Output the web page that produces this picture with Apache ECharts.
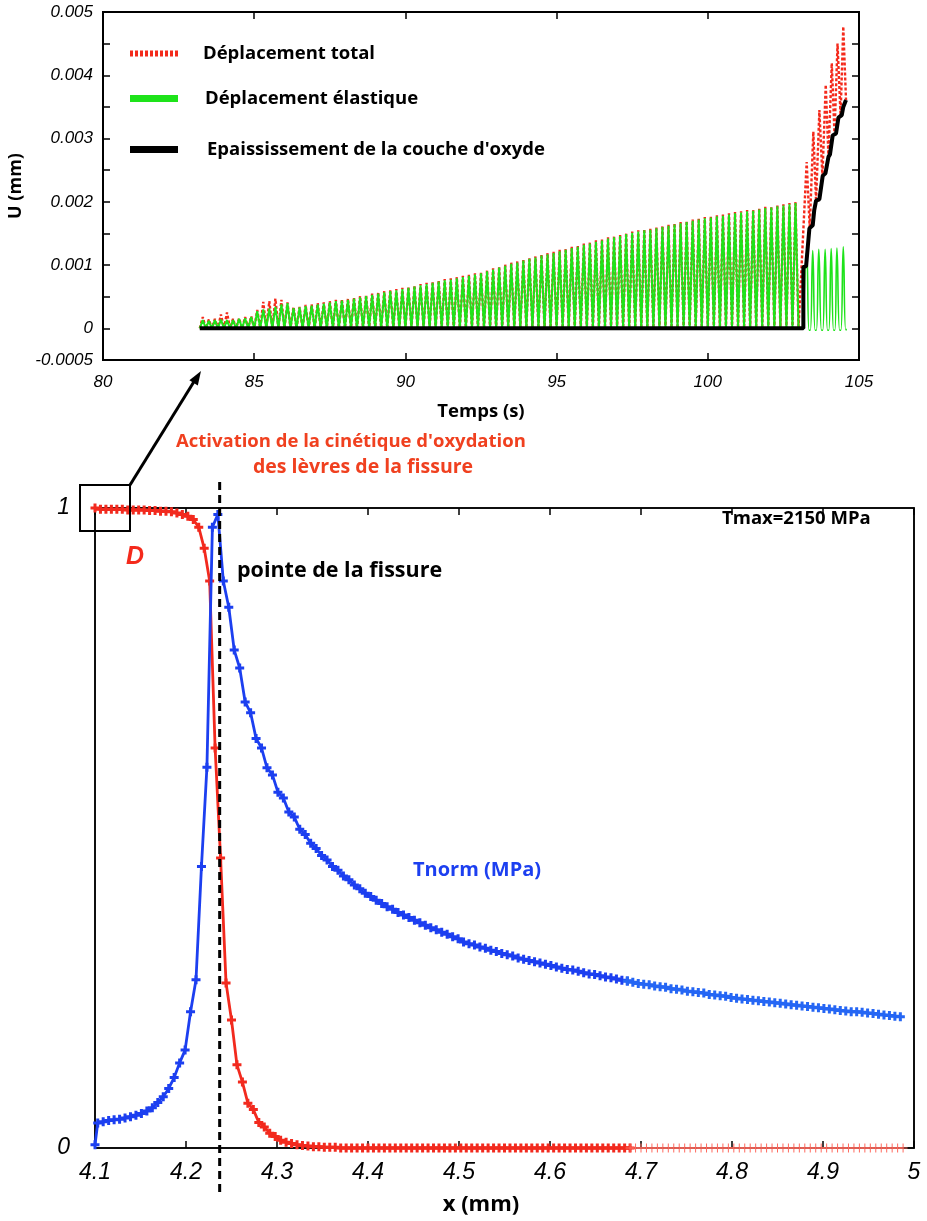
<!DOCTYPE html>
<html><head><meta charset="utf-8">
<script src="https://cdn.jsdelivr.net/npm/echarts@6/dist/echarts.min.js"></script>
<style>html,body{margin:0;padding:0;background:#fff}#c{width:927px;height:1221px}</style>
</head><body><div id="c"></div>
<script>
// ================= DATA =================
// --- top panel : U (mm) vs Temps (s) ---
const cycleT = [83.3,83.5,83.7,83.9,84.1,84.3,84.5,84.7,84.9,85.1,85.3,85.5,85.7,85.9,86.1,86.3,86.5,86.7,86.9,87.1,
87.3,87.5,87.7,87.9,88.1,88.3,88.5,88.7,88.9,89.1,89.3,89.5,89.7,89.9,90.1,90.3,90.5,90.7,90.9,91.1,
91.3,91.5,91.7,91.9,92.1,92.3,92.5,92.7,92.9,93.1,93.3,93.5,93.7,93.9,94.1,94.3,94.5,94.7,94.9,95.1,
95.3,95.5,95.7,95.9,96.1,96.3,96.5,96.7,96.9,97.1,97.3,97.5,97.7,97.9,98.1,98.3,98.5,98.7,98.9,99.1,
99.3,99.5,99.7,99.9,100.1,100.3,100.5,100.7,100.9,101.1,101.3,101.5,101.7,101.9,102.1,102.3,102.5,102.7,102.9];
const cycleValley = 0;
const elasticPeak = [0.00013,0.00012,0.00013,0.00014,0.00013,0.00013,0.00015,0.00016,0.00018,0.00027,
0.00030,0.00031,0.00034,0.00038,0.00040,0.00032,0.00033,0.00035,0.00036,0.00038,
0.00039,0.00041,0.00043,0.00044,0.00045,0.00047,0.00049,0.00051,0.00053,0.00055,
0.00057,0.00059,0.00060,0.00062,0.00064,0.00066,0.00068,0.00070,0.00072,0.00074,
0.00076,0.00077,0.00079,0.00081,0.00083,0.00085,0.00087,0.00090,0.00093,0.00096,
0.00099,0.00102,0.00104,0.00107,0.00110,0.00112,0.00115,0.00117,0.00119,0.00122,
0.00124,0.00127,0.00129,0.00132,0.00134,0.00137,0.00139,0.00142,0.00144,0.00146,
0.00149,0.00151,0.00153,0.00155,0.00156,0.00158,0.00160,0.00162,0.00164,0.00166,
0.00168,0.00170,0.00172,0.00174,0.00175,0.00177,0.00178,0.00180,0.00182,0.00183,
0.00185,0.00186,0.00188,0.00190,0.00191,0.00193,0.00194,0.00196,0.00198];
const totalPeak = [0.00018,0.00014,0.00015,0.00022,0.00025,0.00015,0.00016,0.00018,0.00019,0.00029,
0.00042,0.00043,0.00047,0.00045,0.00041,0.00034,0.00034,0.00037,0.00038,0.00040,
0.00041,0.00043,0.00045,0.00046,0.00047,0.00049,0.00051,0.00053,0.00055,0.00057,
0.00059,0.00061,0.00062,0.00064,0.00066,0.00068,0.00070,0.00072,0.00074,0.00076,
0.00078,0.00079,0.00081,0.00083,0.00085,0.00087,0.00089,0.00092,0.00095,0.00098,
0.00101,0.00104,0.00106,0.00109,0.00112,0.00114,0.00117,0.00119,0.00121,0.00124,
0.00126,0.00129,0.00131,0.00134,0.00136,0.00139,0.00141,0.00144,0.00146,0.00148,
0.00151,0.00153,0.00155,0.00157,0.00158,0.00160,0.00162,0.00164,0.00166,0.00168,
0.00170,0.00172,0.00174,0.00176,0.00177,0.00179,0.00180,0.00182,0.00184,0.00185,
0.00187,0.00188,0.00190,0.00192,0.00193,0.00195,0.00196,0.00198,0.00200];
// after activation of oxidation (t > 103 s)
const lateTotalT = [103.00,103.27,103.37,103.49,103.58,103.69,103.79,103.90,103.99,104.10,104.19,104.29,104.39,104.48,104.57];
const lateTotalU = [0,0.00263,0.00158,0.00311,0.00201,0.00345,0.00240,0.00385,0.00271,0.00419,0.00306,0.00450,0.00336,0.00477,0.00361];
const lateElasticT = [103.16,103.27,103.35,103.39,103.47,103.55,103.59,103.67,103.76,103.80,103.88,103.96,104.00,104.08,104.16,104.20,104.27,104.36,104.40,104.48,104.56,104.60];
const lateElasticU = [0,0.00122,-0.00003,-0.00003,0.00123,-0.00003,-0.00003,0.00125,-0.00003,-0.00003,0.00125,-0.00003,-0.00003,0.00126,-0.00003,-0.00003,0.00127,-0.00003,-0.00003,0.00129,-0.00002,-0.00002];
const oxideT = [83.2,103.16,103.16,103.25,103.36,103.47,103.52,103.58,103.69,103.80,103.89,103.99,104.04,104.13,104.24,104.32,104.43,104.48,104.57];
const oxideU = [0,0,0.00097,0.00098,0.00158,0.00163,0.00187,0.00202,0.00204,0.00241,0.00245,0.00271,0.00275,0.00305,0.00308,0.00333,0.00337,0.00350,0.00361];

// --- bottom panel : D and Tnorm/Tmax vs x (mm) ---
const nodeX = [4.100,4.106,4.112,4.118,4.124,4.130,4.136,4.142,4.148,4.154,4.160,4.166,4.172,4.178,4.184,4.190,4.196,4.202,4.208,4.214,
4.220,4.226,4.232,4.238,4.244,4.250,4.256,4.262,4.268,4.274,4.280,4.286,4.292,4.298,4.304,4.310,4.316,4.322,4.328,4.334,
4.340,4.346,4.352,4.358,4.364,4.370,4.376,4.382,4.388,4.394,4.400,4.406,4.412,4.418,4.424,4.430,4.436,4.442,4.448,4.454,
4.460,4.466,4.472,4.478,4.484,4.490,4.496,4.502,4.508,4.514,4.520,4.526,4.532,4.538,4.544,4.550,4.556,4.562,4.568,4.574,
4.580,4.586,4.592,4.598,4.604,4.610,4.616,4.622,4.628,4.634,4.640,4.646,4.652,4.658,4.664,4.670,4.676,4.682,4.688,4.694,
4.700,4.706,4.712,4.718,4.724,4.730,4.736,4.742,4.748,4.754,4.760,4.766,4.772,4.778,4.784,4.790,4.796,4.802,4.808,4.814,
4.820,4.826,4.832,4.838,4.844,4.850,4.856,4.862,4.868,4.874,4.880,4.886,4.892,4.898,4.904,4.910,4.916,4.922,4.928,4.934,
4.940,4.946,4.952,4.958,4.964,4.970,4.976,4.982,4.988];
const damage = [1.000,0.998,0.998,0.998,0.998,0.998,0.997,0.997,0.997,0.997,0.996,0.996,0.995,0.995,0.994,0.992,0.990,0.987,0.982,0.970,
0.937,0.886,0.625,0.453,0.258,0.200,0.130,0.103,0.070,0.060,0.040,0.033,0.023,0.018,0.012,0.009,0.007,0.005,0.004,0.003,
0.002,0.002,0.001,0.001,0.001,0,0,0,0,0,
0,0,0,0,0,0,0,0,0,0, 0,0,0,0,0,0,0,0,0,0, 0,0,0,0,0,0,0,0,0,0, 0,0,0,0,0,0,0,0,0,0,
0,0,0,0,0,0,0,0,0,0, 0,0,0,0,0,0,0,0,0,0, 0,0,0,0,0,0,0,0,0,0, 0,0,0,0,0,0,0,0,0,0,
0,0,0,0,0,0,0,0,0,0, 0,0,0,0,0,0,0,0,0];
const tractionX = [4.100,4.103,4.109,4.115,4.121,4.127,4.133,4.139,4.145,4.151,4.157,4.163,4.169,4.175,4.181,4.187,4.193,4.199,4.205,4.211,
4.217,4.223,4.229,4.235,4.241,4.247,4.253,4.259,4.265,4.271,4.277,4.283,4.289,4.295,4.301,4.307,4.313,4.319,4.325,4.331,
4.337,4.343,4.349,4.355,4.361,4.367,4.373,4.379,4.385,4.391,4.397,4.403,4.409,4.415,4.421,4.427,4.433,4.439,4.445,4.451,
4.457,4.463,4.469,4.475,4.481,4.487,4.493,4.499,4.505,4.511,4.517,4.523,4.529,4.535,4.541,4.547,4.553,4.559,4.565,4.571,
4.577,4.583,4.589,4.595,4.601,4.607,4.613,4.619,4.625,4.631,4.637,4.643,4.649,4.655,4.661,4.667,4.673,4.679,4.685,4.691,
4.697,4.703,4.709,4.715,4.721,4.727,4.733,4.739,4.745,4.751,4.757,4.763,4.769,4.775,4.781,4.787,4.793,4.799,4.805,4.811,
4.817,4.823,4.829,4.835,4.841,4.847,4.853,4.859,4.865,4.871,4.877,4.883,4.889,4.895,4.901,4.907,4.913,4.919,4.925,4.931,
4.937,4.943,4.949,4.955,4.961,4.967,4.973,4.979,4.985];
const traction = [0.005,
0.039,0.041,0.043,0.044,0.045,0.047,0.049,0.051,0.054,0.058,0.063,0.071,0.080,0.093,0.110,0.133,0.153,0.213,0.263,0.440,
0.595,0.970,0.990,0.886,0.845,0.778,0.750,0.697,0.680,0.640,0.625,0.594,0.583,0.556,0.547,0.525,0.517,
0.498,0.490,0.476,0.468,0.457,0.450,0.440,0.434,0.425,0.419,0.411,0.405,0.398,0.393,0.387,0.382,0.377,0.373,0.368,0.364,
0.360,0.356,0.352,0.348,0.344,0.341,0.337,0.334,0.330,0.327,
0.322,0.319,0.317,0.314,0.312,0.309,0.307,0.304,0.302,0.300,0.297,0.295,0.293,0.291,0.289,0.287,0.285,
0.283,0.281,0.279,0.278,0.276,0.274,0.272,0.271,0.269,0.267,0.266,0.264,0.262,0.261,0.259,0.257,0.256,
0.255,0.253,0.252,0.251,0.249,0.248,0.247,0.245,0.244,0.243,0.242,0.240,0.239,0.238,0.237,0.235,
0.234,0.233,0.232,0.231,0.230,0.229,0.228,0.227,0.226,0.225,0.224,0.223,0.222,0.221,0.220,0.219,0.218,
0.217,0.216,0.215,0.214,0.213,0.213,0.212,0.211,0.210,0.209,0.208,0.207,0.206,0.205];
const crackTipX = 4.237;
const xTicksBottom = ['4.1','4.2','4.3','4.4','4.5','4.6','4.7','4.8','4.9','5'];
const seriesNames = ['Déplacement total','Déplacement élastique',"Epaississement de la couche d'oxyde"];

// ================= BUILD =================
const RED = '#f42a1c', GREEN = '#1ee31a', BLACK = '#000';
const DRED = '#f22a1e', DRED2 = '#ff6a5e', BLUE = '#1c3ff0', BLUE2 = '#2566f4';

function zigzag(times, peaks, valley) {
  const out = [];
  for (let i = 0; i < times.length; i++) {
    out.push([+(times[i] - 0.1).toFixed(2), valley]);
    out.push([times[i], peaks[i]]);
  }
  return out;
}
const pairs = (a, b) => a.map((v, i) => [v, b[i]]);

const totalData = zigzag(cycleT, totalPeak, cycleValley).concat(pairs(lateTotalT, lateTotalU));
const elasticData = zigzag(cycleT, elasticPeak, cycleValley).concat([[103.0, cycleValley]]);
const elasticLate = pairs(lateElasticT, lateElasticU);
const oxideData = pairs(oxideT, oxideU);

const dAll = pairs(nodeX, damage);
const dSplit = nodeX.indexOf(4.688);
const tAll = pairs(tractionX, traction);
const tSplit = tractionX.indexOf(4.685);

const CROSS = 'path://M0,3H9V6H0Z M3,0H6V9H3Z';
const CROSS_THIN = 'path://M0,4H9V5H0Z M4,0H5V9H4Z';
const DASH_ICON = 'path://M0,0h3v6h-3z M5,0h3v6h-3z M10,0h3v6h-3z M15,0h3v6h-3z M20,0h3v6h-3z M25,0h3v6h-3z M30,0h3v6h-3z M35,0h3v6h-3z M40,0h3v6h-3z M45,0h3v6h-3z';

const tickFont = {fontFamily: 'Liberation Sans', fontStyle: 'italic', color: '#000'};
const boldFont = 'Open Sans';

const chart = echarts.init(document.getElementById('c'), null, {renderer: 'canvas'});

function legendFor(name, icon, color, top, pad) {
  return {
    data: [{name: name, icon: icon, itemStyle: {color: color}}],
    left: 130, top: top, itemWidth: 48, itemHeight: 7, padding: 0,
    selectedMode: false, orient: 'horizontal',
    textStyle: {fontFamily: boldFont, fontWeight: 'bold', fontSize: 18.5, color: '#000', padding: [0, 0, 0, pad]}
  };
}
const frame = (w) => ({show: true, onZero: false, lineStyle: {color: '#000', width: w}});
const ticks = {show: true, inside: true, length: 7, lineStyle: {color: '#000', width: 1.5}};

const option = {
  animation: false,
  backgroundColor: '#fff',
  grid: [
    {left: 103, top: 12, right: 68, bottom: 861, outerBoundsMode: 'none', containLabel: false,
     show: true, borderColor: '#000', borderWidth: 2, backgroundColor: 'transparent'},
    {left: 95, top: 508, right: 13, bottom: 73, outerBoundsMode: 'none', containLabel: false,
     show: true, borderColor: '#000', borderWidth: 1.5, backgroundColor: 'transparent'}
  ],
  legend: [
    legendFor(seriesNames[0], DASH_ICON, RED, 44, 20),
    legendFor(seriesNames[1], 'rect', GREEN, 89, 22),
    legendFor(seriesNames[2], 'rect', BLACK, 140, 24)
  ],
  xAxis: [
    {gridIndex: 0, type: 'value', min: 80, max: 105, interval: 5, position: 'bottom',
     name: 'Temps (s)', nameLocation: 'middle', nameGap: 42,
     nameTextStyle: {fontFamily: boldFont, fontWeight: 'bold', fontSize: 18.5, color: '#000'},
     axisLine: frame(2), axisTick: ticks,
     axisLabel: Object.assign({fontSize: 17, margin: 14, hideOverlap: false}, tickFont), splitLine: {show: false}},
    {gridIndex: 0, type: 'value', min: 80, max: 105, interval: 5, position: 'top',
     axisLine: frame(2), axisTick: ticks, axisLabel: {show: false}, splitLine: {show: false}},
    {gridIndex: 1, type: 'value', min: 4.1, max: 5, interval: 0.1, position: 'bottom',
     name: 'x (mm)', nameLocation: 'middle', nameGap: 46,
     nameTextStyle: {fontFamily: boldFont, fontWeight: 'bold', fontSize: 22, color: '#000', padding: [0, 47, 0, 0]},
     axisLine: frame(1.5), axisTick: ticks,
     axisLabel: Object.assign({fontSize: 23, margin: 13, hideOverlap: false,
       formatter: function (v) { return xTicksBottom[Math.round((v - 4.1) * 10)] || ''; }}, tickFont),
     splitLine: {show: false}},
    {gridIndex: 1, type: 'value', min: 4.1, max: 5, interval: 0.1, position: 'top',
     axisLine: frame(1.5), axisTick: ticks, axisLabel: {show: false}, splitLine: {show: false}}
  ],
  yAxis: [
    {gridIndex: 0, type: 'value', min: -0.0005, max: 0.005, interval: 0.0005, position: 'left',
     name: 'U (mm)', nameLocation: 'middle', nameGap: 66,
     nameTextStyle: {fontFamily: boldFont, fontWeight: 'bold', fontSize: 18, color: '#000'},
     axisLine: frame(2), axisTick: ticks,
     axisLabel: Object.assign({fontSize: 17, margin: 10, hideOverlap: false, showMinLabel: true, showMaxLabel: true,
       formatter: function (v) {
         const m = Math.round(v * 10000);
         if (m === -5) return '-0.0005';
         if (m % 10 !== 0) return '';
         return String(m / 10000);
       }}, tickFont), splitLine: {show: false}},
    {gridIndex: 0, type: 'value', min: -0.0005, max: 0.005, interval: 0.0005, position: 'right',
     axisLine: frame(2), axisTick: ticks, axisLabel: {show: false}, splitLine: {show: false}},
    {gridIndex: 1, type: 'value', min: 0, max: 1, interval: 1, position: 'left',
     axisLine: frame(1.5), axisTick: {show: false},
     axisLabel: Object.assign({fontSize: 23, margin: 25, hideOverlap: false}, tickFont), splitLine: {show: false}},
    {gridIndex: 1, type: 'value', min: 0, max: 1, interval: 1, position: 'right',
     axisLine: frame(1.5), axisTick: {show: false}, axisLabel: {show: false}, splitLine: {show: false}}
  ],
  series: [
    {name: seriesNames[0], type: 'line', xAxisIndex: 0, yAxisIndex: 0, data: totalData, showSymbol: false, clip: false, z: 2,
     itemStyle: {color: RED}, lineStyle: {color: RED, width: 2.4, type: [3, 2]}},
    {name: seriesNames[1], type: 'line', xAxisIndex: 0, yAxisIndex: 0, data: elasticData, showSymbol: false, clip: false, z: 3,
     itemStyle: {color: GREEN}, lineStyle: {color: GREEN, width: 2}},
    {name: seriesNames[1], type: 'line', xAxisIndex: 0, yAxisIndex: 0, data: elasticLate, showSymbol: false, clip: false, z: 3,
     smooth: 0.5, itemStyle: {color: GREEN}, lineStyle: {color: GREEN, width: 1.6}},
    {name: seriesNames[2], type: 'line', xAxisIndex: 0, yAxisIndex: 0, data: oxideData, showSymbol: false, clip: false, z: 4,
     itemStyle: {color: BLACK}, lineStyle: {color: BLACK, width: 4}},

    {name: 'D', type: 'line', xAxisIndex: 2, yAxisIndex: 2, data: dAll.slice(0, dSplit + 1), clip: false, z: 3,
     symbol: CROSS, symbolSize: 9, itemStyle: {color: DRED}, lineStyle: {color: DRED, width: 2.8}},
    {name: 'D2', type: 'line', xAxisIndex: 2, yAxisIndex: 2, data: dAll.slice(dSplit), clip: false, z: 3,
     symbol: CROSS_THIN, symbolSize: 9, itemStyle: {color: DRED2}, lineStyle: {color: DRED2, width: 1}},
    {name: 'Tnorm', type: 'line', xAxisIndex: 2, yAxisIndex: 2, data: tAll.slice(0, tSplit + 1), clip: false, z: 4,
     symbol: CROSS, symbolSize: 9, itemStyle: {color: BLUE}, lineStyle: {color: BLUE, width: 2.8}},
    {name: 'Tnorm2', type: 'line', xAxisIndex: 2, yAxisIndex: 2, data: tAll.slice(tSplit), clip: false, z: 4,
     symbol: CROSS, symbolSize: 9, itemStyle: {color: BLUE2}, lineStyle: {color: BLUE2, width: 2.8}}
  ]
};
chart.setOption(option);

// ---------- annotations ----------
const tipPx = chart.convertToPixel({xAxisIndex: 2}, crackTipX);
function txt(s, x, y, size, color, extra) {
  return {type: 'text', z: 20, style: Object.assign({text: s, x: x, y: y, fill: color, fontFamily: boldFont,
    fontWeight: 'bold', fontSize: size, align: 'left', verticalAlign: 'middle'}, extra || {})};
}
chart.setOption({
  graphic: [
    {type: 'line', z: 15, shape: {x1: tipPx, y1: 482, x2: tipPx, y2: 1196},
     style: {stroke: '#000', lineWidth: 3, lineDash: [8, 5]}},
    {type: 'rect', z: 15, shape: {x: 80, y: 485, width: 50, height: 46}, style: {fill: 'none', stroke: '#000', lineWidth: 2}},
    {type: 'line', z: 15, shape: {x1: 130, y1: 485, x2: 195, y2: 380}, style: {stroke: '#000', lineWidth: 3}},
    {type: 'polygon', z: 15, shape: {points: [[201, 371], [197.8, 385.5], [189.4, 380.2]]}, style: {fill: '#000'}},
    txt("Activation de la cinétique d'oxydation", 176, 442, 18.5, '#f0401f'),
    txt('des lèvres de la fissure', 253, 467, 19.5, '#f0401f'),
    txt('D', 126, 557, 25, '#f42a1c', {fontStyle: 'italic', fontFamily: 'Liberation Sans'}),
    txt('pointe de la fissure', 237, 571, 21.5, '#000'),
    txt('Tmax=2150 MPa', 722, 519, 18.5, '#000'),
    txt('Tnorm (MPa)', 413, 870, 20, '#1c3ff0')
  ]
});
</script>
</body></html>
